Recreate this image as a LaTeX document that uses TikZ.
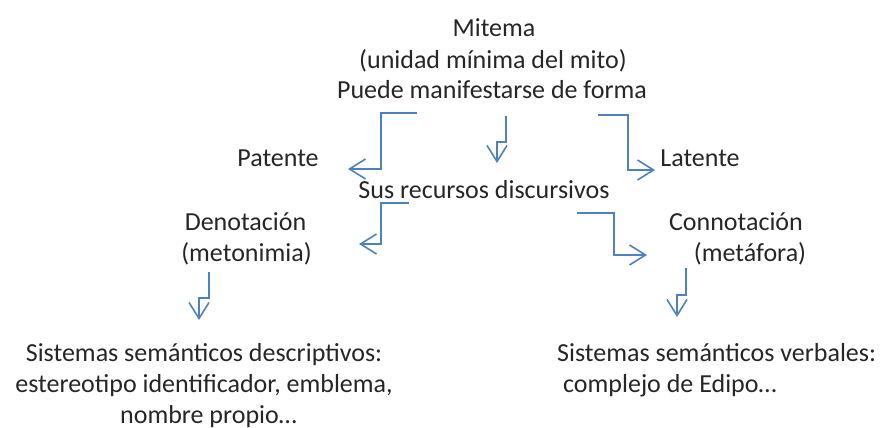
\documentclass[tikz,border=0pt]{standalone}
\usepackage{fontspec}
\setmainfont{Carlito}
\usetikzlibrary{arrows.meta}
\definecolor{arrowblue}{RGB}{79,129,189}
\definecolor{textgray}{RGB}{38,38,38}
\tikzset{
  lbl/.style={inner sep=0pt, anchor=base, text=textgray, font=\fontsize{26}{31}\selectfont},
  bent/.style={draw=arrowblue, line width=1.6pt, line join=miter,
    -{Straight Barb[length=16pt, width=20pt, line width=1.6pt]}}
}
\begin{document}
\begin{tikzpicture}[x=1pt, y=-1pt]
\useasboundingbox (0,0) rectangle (883,428);
% texts
\node[lbl] (mit1) at (494,37) {Mitema};
\node[lbl] (mit2) at (493,68) {(unidad mínima del mito)};
\node[lbl] (mit3) at (492,99) {Puede manifestarse de forma};
\node[lbl] (pat) at (278,166) {Patente};
\node[lbl] (lat) at (700,166) {Latente};
\node[lbl] (sus) at (484,198) {Sus recursos discursivos};
\node[lbl] (den1) at (245.5,230) {Denotación};
\node[lbl] (den2) at (246.5,261) {(metonimia)};
\node[lbl] (con1) at (736,230) {Connotación};
\node[lbl] (con2) at (750,261) {(metáfora)};
\node[lbl] (sd1) at (204,361) {Sistemas semánticos descriptivos:};
\node[lbl] (sd2) at (204,392) {estereotipo identificador, emblema,};
\node[lbl] (sd3) at (208.5,423) {nombre propio…};
\node[lbl, anchor=base west] (sv1) at (557,361) {Sistemas semánticos verbales:};
\node[lbl, anchor=base west] (sv2) at (563,392) {complejo de Edipo…};
% connector ends
\coordinate (a1s) at (417,113);  \coordinate (a1e) at (348,169);
\coordinate (a2s) at (506,116);  \coordinate (a2e) at (497,163);
\coordinate (a3s) at (598,115);  \coordinate (a3e) at (655,170);
\coordinate (a4s) at (409,203);  \coordinate (a4e) at (359,244);
\coordinate (a5s) at (577,213);  \coordinate (a5e) at (647,255);
\coordinate (a6s) at (209,272);  \coordinate (a6e) at (199,320);
\coordinate (a7s) at (686,268);  \coordinate (a7e) at (677,317);
% connectors
\draw[bent] (a1s) -- (381,113) -- (381,169) -- (a1e);
\draw[bent] (a2s) -- (506,142) -- (497,142) -- (a2e);
\draw[bent] (a3s) -- (628,115) -- (628,170) -- (a3e);
\draw[bent] (a4s) -- (381,203) -- (381,244) -- (a4e);
\draw[bent] (a5s) -- (614,213) -- (614,255) -- (a5e);
\draw[bent] (a6s) -- (209,298) -- (199,298) -- (a6e);
\draw[bent] (a7s) -- (686,295) -- (677,295) -- (a7e);
\end{tikzpicture}
\end{document}
